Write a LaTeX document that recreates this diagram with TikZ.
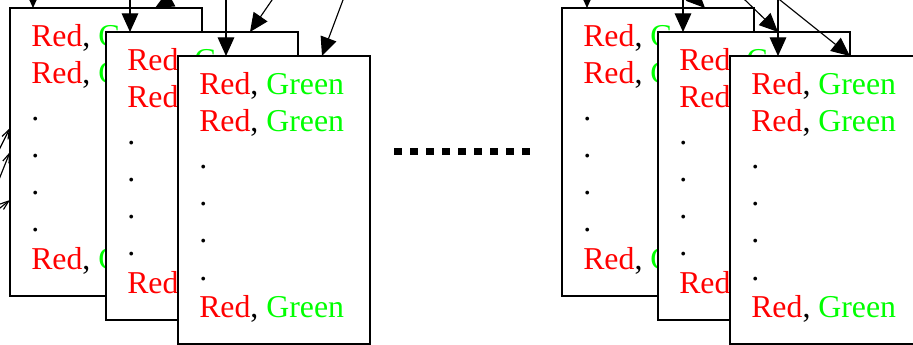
\documentclass[tikz,border=0pt]{standalone}
\usepackage{fontspec}
\setmainfont{Liberation Serif}
\usetikzlibrary{arrows.meta}
\newcommand\rgline{\textcolor{red}{Red}, \textcolor{green}{Green}}
\newcommand\drawcard[3]{%
  \node[card] (#1) at (#2,#3) {};
  \node[txt] (#1-1) at ([shift={(21,39)}]#1.north west) {\rgline};
  \node[txt] (#1-2) at ([shift={(21,76)}]#1.north west) {\rgline};
  \node[txt] (#1-3) at ([shift={(21,113)}]#1.north west) {.};
  \node[txt] (#1-4) at ([shift={(21,150)}]#1.north west) {.};
  \node[txt] (#1-5) at ([shift={(21,187)}]#1.north west) {.};
  \node[txt] (#1-6) at ([shift={(21,224)}]#1.north west) {.};
  \node[txt] (#1-7) at ([shift={(21,261)}]#1.north west) {\rgline};
}
\begin{document}
\begin{tikzpicture}[x=0.75pt,y=-0.75pt,
  card/.style={draw, line width=0.9pt, fill=white, anchor=north west,
    minimum width=144pt, minimum height=216pt, inner sep=0pt, outer sep=0pt},
  txt/.style={anchor=base west, inner sep=0pt, font=\fontsize{23.85}{28}\selectfont},
  arr/.style={-{Triangle[length=14pt,width=12.5pt]}, line width=0.85pt},
  sarr/.style={-{Straight Barb[length=7pt,width=5pt]}, line width=0.85pt},
  sep/.style={line width=5.5pt, dash pattern=on 5.8pt off 6.23pt}]
\useasboundingbox (0,0) rectangle (913,345);
\clip (0,0) rectangle (913,345);

% left stack
\drawcard{A1}{10}{8}
\drawcard{A2}{106}{32}
\drawcard{A3}{178}{56}
% right stack
\drawcard{B1}{562}{8}
\drawcard{B2}{658}{32}
\drawcard{B3}{730}{56}

% separator
\coordinate (sepL) at (394,151.7);
\coordinate (sepR) at (530,151.7);
\draw[sep] (sepL) -- (sepR);

% sources (off the visible area)
\coordinate (la) at (33,-30);
\coordinate (lb) at (215,-25);
\coordinate (lc) at (130,-30);
\coordinate (ld) at (226,-30);
\coordinate (le) at (285.8,-20);
\coordinate (lf) at (350.5,-20);
\coordinate (ra) at (587,-30);
\coordinate (rb) at (680,-17);
\coordinate (rc) at (683,-30);
\coordinate (rd) at (724.4,-20);
\coordinate (re) at (778,-30);
\coordinate (rf) at (755,-20);
\coordinate (sa) at (-10,168);
\coordinate (sb) at (-10,202);
\coordinate (sc) at (-10,216);

% left arrows
\draw[arr] (la) -- ([shift={(23,0)}]A1.north west);
\draw[arr] (lb) -- ([shift={(145,0)}]A1.north west);
\draw[arr] (lc) -- ([shift={(24,0)}]A2.north west);
\draw[arr] (ld) -- ([shift={(48,0)}]A3.north west);
\draw[arr] (le) -- ([shift={(144,0)}]A2.north west);
\draw[arr] (lf) -- ([shift={(144,0)}]A3.north west);
\draw[sarr] (sa) -- ([shift={(0,120)}]A1.north west);
\draw[sarr] (sb) -- ([shift={(0,144)}]A1.north west);
\draw[sarr] (sc) -- ([shift={(0,192)}]A1.north west);

% right arrows
\draw[arr] (ra) -- ([shift={(25,0)}]B1.north west);
\draw[arr] (rb) -- ([shift={(143,0)}]B1.north west);
\draw[arr] (rc) -- ([shift={(25,0)}]B2.north west);
\draw[arr] (rd) -- ([shift={(120,0)}]B2.north west);
\draw[arr] (re) -- ([shift={(48,0)}]B3.north west);
\draw[arr] (rf) -- ([shift={(120,0)}]B3.north west);
\end{tikzpicture}
\end{document}
